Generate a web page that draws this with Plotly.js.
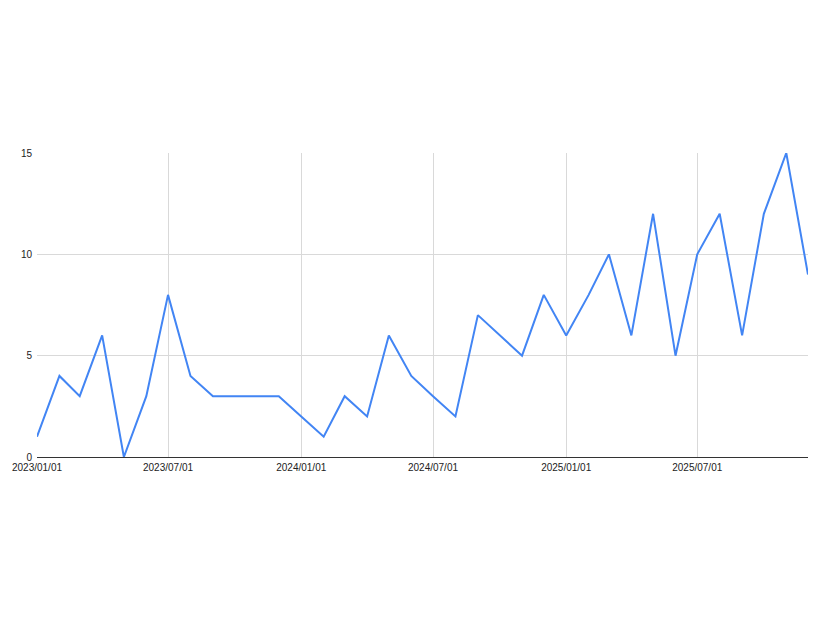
<!DOCTYPE html>
<html>
<head>
<meta charset="utf-8">
<script src="https://cdn.plot.ly/plotly-3.0.1.min.js"></script>
<style>html,body{margin:0;padding:0;background:#fff;}#chart{width:826px;height:620px;}</style>
</head>
<body>
<div id="chart"></div>
<script>
const months = [
  "2023-01-01","2023-02-01","2023-03-01","2023-04-01","2023-05-01","2023-06-01",
  "2023-07-01","2023-08-01","2023-09-01","2023-10-01","2023-11-01","2023-12-01",
  "2024-01-01","2024-02-01","2024-03-01","2024-04-01","2024-05-01","2024-06-01",
  "2024-07-01","2024-08-01","2024-09-01","2024-10-01","2024-11-01","2024-12-01",
  "2025-01-01","2025-02-01","2025-03-01","2025-04-01","2025-05-01","2025-06-01",
  "2025-07-01","2025-08-01","2025-09-01","2025-10-01","2025-11-01","2025-12-01"
];
const counts = [
  1,4,3,6,0,3,8,4,3,3,3,3,
  2,1,3,2,6,4,3,2,7,6,5,8,
  6,8,10,6,12,5,10,12,6,12,15,9
];
const yTicks = [0,5,10,15];

const trace = {
  x: months, y: counts, type: 'scatter', mode: 'lines',
  line: {color: '#4285f4', width: 2},
  hoverinfo: 'skip'
};
const layout = {
  width: 826, height: 620,
  margin: {l: 37, r: 18, t: 153, b: 163},
  paper_bgcolor: '#fff', plot_bgcolor: '#fff',
  showlegend: false,
  font: {family: 'Liberation Sans, Arial, sans-serif', size: 10, color: '#222'},
  xaxis: {
    type: 'date',
    range: ['2023-01-01', '2025-12-01'],
    tick0: '2023-01-01', dtick: 'M6',
    tickformat: '%Y/%m/%d',
    showgrid: true, gridcolor: '#d9d9d9', gridwidth: 1,
    showline: false, zeroline: false, ticks: '',
    tickfont: {size: 10, color: '#222'},
    ticklabelstandoff: 3,
    fixedrange: true
  },
  yaxis: {
    range: [0, 15],
    tickvals: yTicks,
    showgrid: true, gridcolor: '#d9d9d9', gridwidth: 1,
    zeroline: true, zerolinecolor: '#333', zerolinewidth: 1,
    showline: false, ticks: '',
    tickfont: {size: 10, color: '#222'},
    ticklabelstandoff: 4,
    fixedrange: true
  }
};
Plotly.newPlot('chart', [trace], layout, {displayModeBar: false, staticPlot: true});
</script>
</body>
</html>
